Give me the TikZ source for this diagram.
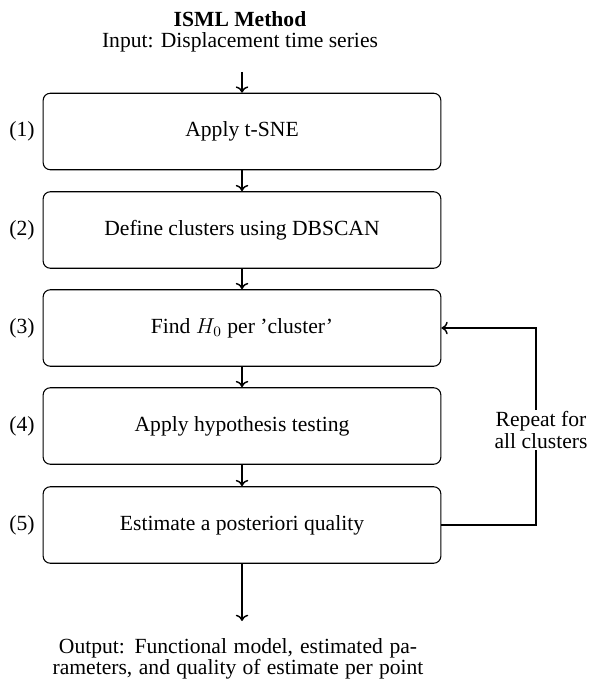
\documentclass[tikz,border=0pt]{standalone}
\usepackage{fontspec}
\setmainfont{Liberation Serif}
\usetikzlibrary{arrows.meta}
\begin{document}
\begin{tikzpicture}[x=0.5556pt,y=-0.5556pt,
  font=\fontsize{12pt}{12pt}\selectfont,
  stepbox/.style={draw,rounded corners=4pt,line width=0.6pt,minimum width=221pt,minimum height=42.5pt,inner sep=0pt},
  flow/.style={-{To[length=3.5pt,width=7pt]},line width=0.8pt},
  numlabel/.style={inner sep=0pt}]
\useasboundingbox (0,0) rectangle (591,681);
\node[font=\fontsize{12pt}{12pt}\selectfont\bfseries] (title) at (240,19) {ISML Method};
\node (input) at (240,42) {Input: Displacement time series};
\coordinate (instart) at (242,72);
\node[stepbox] (s1) at (242,131.5) {Apply t-SNE};
\node[stepbox] (s2) at (242,230) {Define clusters using DBSCAN};
\node[stepbox] (s3) at (242,328) {Find $H_0$ per 'cluster'};
\node[stepbox] (s4) at (242,426) {Apply hypothesis testing};
\node[stepbox] (s5) at (242,525) {Estimate a posteriori quality};
\node[numlabel] at (22,131.5) {(1)};
\node[numlabel] at (22,230) {(2)};
\node[numlabel] at (22,328) {(3)};
\node[numlabel] at (22,426) {(4)};
\node[numlabel] at (22,525) {(5)};
\coordinate (outend) at (242,621);
\node[align=center] (output) at (238,659) {\hbox to 199pt{Output: Functional model, estimated pa-}\\\hbox to 206pt{rameters, and quality of estimate per point}};
\draw[flow] (instart) -- (s1.north);
\draw[flow] (s1) -- (s2);
\draw[flow] (s2) -- (s3);
\draw[flow] (s3) -- (s4);
\draw[flow] (s4) -- (s5);
\draw[flow] (s5.south) -- (outend);
\coordinate (loopx) at (536,0);
\draw[flow] (s5.east) -- (loopx |- s5.east) -- (loopx |- s3.east) -- (s3.east);
\node[fill=white,align=center,inner sep=1pt] (repeat) at (541,430) {Repeat for\\all clusters};
\end{tikzpicture}
\end{document}
